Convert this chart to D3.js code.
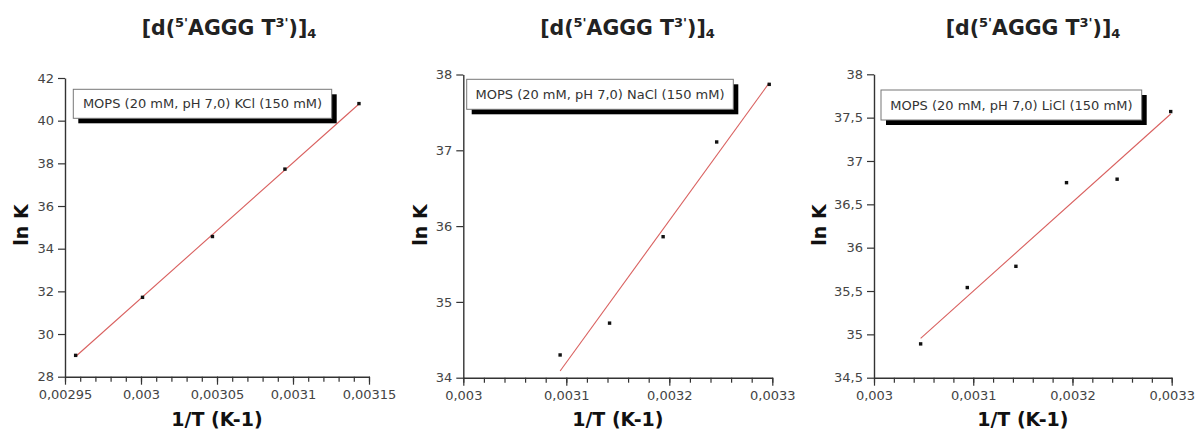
<!DOCTYPE html>
<html><head><meta charset="utf-8">
<script src="https://cdn.jsdelivr.net/npm/d3@7"></script>
<style>
html,body{margin:0;padding:0;background:#fff;}
svg{display:block;}
</style></head>
<body>
<svg id="c" width="1195" height="430"></svg>
<script>
// ---------- data ----------
const invT_KCl  = [0.002957, 0.003001, 0.003047, 0.0030947, 0.0031434];
const lnK_KCl   = [29.0, 31.72, 34.57, 37.73, 40.8];
const invT_NaCl = [0.003094, 0.003142, 0.003194, 0.003246, 0.003297];
const lnK_NaCl  = [34.3, 34.72, 35.86, 37.11, 37.87];
const invT_LiCl = [0.003047, 0.003094, 0.003143, 0.003194, 0.003245, 0.003299];
const lnK_LiCl  = [34.89, 35.54, 35.785, 36.75, 36.79, 37.57];

const legends = ["MOPS (20 mM, pH 7,0) KCl (150 mM)",
                 "MOPS (20 mM, pH 7,0) NaCl (150 mM)",
                 "MOPS (20 mM, pH 7,0) LiCl (150 mM)"];

const xTicks1 = [0.00295, 0.003, 0.00305, 0.0031, 0.00315];
const xTicks23 = [0.003, 0.0031, 0.0032, 0.0033];
const yTicks1 = [28, 30, 32, 34, 36, 38, 40, 42];
const yTicks2 = [34, 35, 36, 37, 38];
const yTicks3 = [34.5, 35, 35.5, 36, 36.5, 37, 37.5, 38];
const xMinorStep1 = 0.00001, xMinorStep23 = 0.00002;

const xLabel = "1/T (K-1)", yLabel = "ln K";

// ---------- layout ----------
const panels = [
  {xs: invT_KCl, ys: lnK_KCl, leg: legends[0], xd:[0.00295,0.00315], yd:[28,42],
   xt: xTicks1, yt: yTicks1, minor: xMinorStep1,
   px:[65,369], py:[376.7,78], legBox:[73.3,89.3,258.4,29], titleX:229, ylabX:21},
  {xs: invT_NaCl, ys: lnK_NaCl, leg: legends[1], xd:[0.003,0.0033], yd:[34,38],
   xt: xTicks23, yt: yTicks2, minor: xMinorStep23,
   px:[463.3,772.3], py:[377.7,74.5], legBox:[466.7,79.3,266.6,30], titleX:627.5, ylabX:420},
  {xs: invT_LiCl, ys: lnK_LiCl, leg: legends[2], xd:[0.003,0.0033], yd:[34.5,38],
   xt: xTicks23, yt: yTicks3, minor: xMinorStep23,
   px:[874,1171.7], py:[377.7,74.3], legBox:[881,90,260.7,30], titleX:1033, ylabX:819}
];

const fmt = v => String(+v.toPrecision(6)).replace('.', ',');
const svg = d3.select("#c");
const FONT = "'DejaVu Sans', Verdana, sans-serif";

panels.forEach(p => {
  const x = d3.scaleLinear().domain(p.xd).range(p.px);
  const y = d3.scaleLinear().domain(p.yd).range(p.py);
  const g = svg.append("g");

  // title
  const t = g.append("text").attr("x", p.titleX).attr("y", 35)
    .attr("text-anchor","middle").attr("font-family",FONT).attr("font-weight","bold")
    .attr("font-size",20.5).attr("fill","#222");
  t.append("tspan").text("[d(");
  t.append("tspan").attr("font-size",13).attr("dy",-8).text("5'");
  t.append("tspan").attr("dy",8).text("AGGG T");
  t.append("tspan").attr("font-size",13).attr("dy",-8).text("3'");
  t.append("tspan").attr("dy",8).text(")]");
  t.append("tspan").attr("font-size",13).attr("dy",3).text("4");

  // x axis
  const minorTicks = d3.range(Math.round((p.xd[1]-p.xd[0])/p.minor)+1).map(i => p.xd[0] + i*p.minor);
  g.append("g").attr("transform",`translate(0,${p.py[0]})`)
    .call(d3.axisBottom(x).tickValues(minorTicks).tickSize(5).tickFormat(""))
    .call(a => a.select(".domain").remove())
    .call(a => a.selectAll("line").attr("stroke","#333").attr("stroke-width",1.2));
  g.append("g").attr("transform",`translate(0,${p.py[0]})`)
    .call(d3.axisBottom(x).tickValues(p.xt).tickSize(8).tickSizeOuter(0).tickFormat(fmt).tickPadding(5))
    .call(a => a.select(".domain").attr("stroke","#333").attr("stroke-width",1.4))
    .call(a => a.selectAll("line").attr("stroke","#333").attr("stroke-width",1.2))
    .call(a => a.selectAll("text").attr("font-family",FONT).attr("font-size",13).attr("fill","#444"));

  // y axis
  g.append("g").attr("transform",`translate(${p.px[0]},0)`)
    .call(d3.axisLeft(y).tickValues(p.yt).tickSize(7).tickSizeOuter(0).tickFormat(fmt).tickPadding(4))
    .call(a => a.select(".domain").attr("stroke","#333").attr("stroke-width",1.4))
    .call(a => a.selectAll("line").attr("stroke","#333").attr("stroke-width",1.2))
    .call(a => a.selectAll("text").attr("font-family",FONT).attr("font-size",13).attr("fill","#444"));

  // axis labels
  g.append("text").attr("transform",`translate(${p.ylabX+7},225) rotate(-90)`)
    .attr("text-anchor","middle").attr("font-family",FONT).attr("font-weight","bold")
    .attr("font-size",19).attr("fill","#111").text(yLabel);
  g.append("text").attr("x",(p.px[0]+p.px[1])/2).attr("y",426)
    .attr("text-anchor","middle").attr("font-family",FONT).attr("font-weight","bold")
    .attr("font-size",19).attr("fill","#111").text(xLabel);

  // regression line
  const mx = d3.mean(p.xs), my = d3.mean(p.ys);
  const sxy = d3.sum(p.xs, (v,i) => (v-mx)*(p.ys[i]-my));
  const sxx = d3.sum(p.xs, v => (v-mx)*(v-mx));
  const b = sxy/sxx, a0 = my - b*mx;
  const ex = d3.extent(p.xs);
  g.append("path").datum(ex.map(v => [v, a0 + b*v]))
    .attr("d", d3.line().x(d => x(d[0])).y(d => y(d[1])))
    .attr("fill","none").attr("stroke","#d9605f").attr("stroke-width",1.1);

  // points
  g.selectAll("rect.pt").data(p.xs).join("rect").attr("class","pt")
    .attr("x",(d)=>x(d)-1.7).attr("y",(d,i)=>y(p.ys[i])-1.7)
    .attr("width",3.4).attr("height",3.4).attr("fill","#111");

  // legend
  const [lx,ly,lw,lh] = p.legBox;
  g.append("rect").attr("x",lx+5).attr("y",ly+5).attr("width",lw).attr("height",lh).attr("fill","#000");
  g.append("rect").attr("x",lx).attr("y",ly).attr("width",lw).attr("height",lh)
    .attr("fill","#fff").attr("stroke","#777").attr("stroke-width",1);
  g.append("text").attr("x",lx+lw/2).attr("y",ly+lh/2+4.5).attr("text-anchor","middle")
    .attr("font-family",FONT).attr("font-size",13).attr("fill","#333").text(p.leg);
});
</script>
</body></html>
